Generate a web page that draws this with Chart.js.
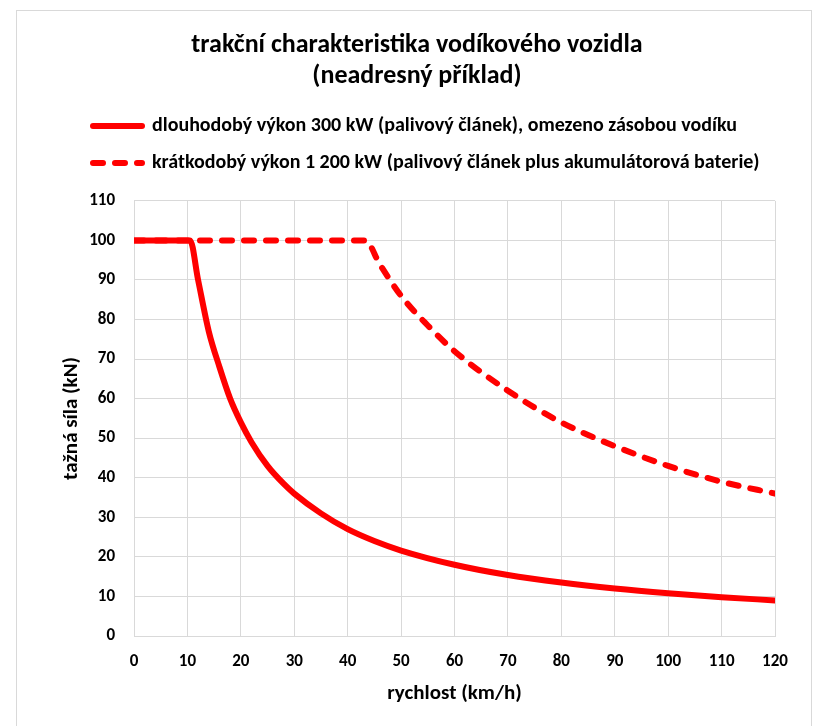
<!DOCTYPE html>
<html>
<head>
<meta charset="utf-8">
<script src="https://cdn.jsdelivr.net/npm/chart.js@4.4.0/dist/chart.umd.min.js"></script>
<style>
  body { margin: 0; background: #fff; }
  #box { position: absolute; left: 16px; top: 10px; width: 794px; height: 730px; border: 1px solid #d9d9d9; background: #fff; }
  canvas { display: block; }
</style>
</head>
<body>
<div id="box"><canvas id="c" width="794" height="718"></canvas></div>
<script>
// dlouhodobý výkon 300 kW
const speedLong = [0, 10.5, 12, 14, 16, 18, 20, 22, 25, 28, 30, 35, 40, 45, 50, 60, 70, 80, 90, 100, 110, 120];
const forceLong = [100, 100, 90, 77, 68, 60, 54, 49, 43, 38.5, 36, 31, 27, 24, 21.6, 18, 15.4, 13.5, 12, 10.8, 9.8, 9];
// krátkodobý výkon 1 200 kW
const speedShort = [0, 43.3, 46, 50, 55, 60, 70, 80, 90, 100, 110, 120];
const forceShort = [100, 100, 94, 86, 78.5, 72, 62, 54, 48, 43, 39, 36];

const seriesNames = [
  'dlouhodobý výkon 300 kW (palivový článek), omezeno zásobou vodíku',
  'krátkodobý výkon 1 200 kW (palivový článek plus akumulátorová baterie)'
];
const titleLines = ['trakční charakteristika vodíkového vozidla', '(neadresný příklad)'];

const FONT = 'Carlito, Lato, sans-serif';

function pts(xs, ys) {
  return xs.map((x, i) => ({ x: x, y: ys[i] }));
}

// legend drawn by hand so both rows start at the same x
const legendPlugin = {
  id: 'leftLegend',
  afterDraw(chart) {
    const ctx = chart.ctx;
    const rows = [115, 152];
    ctx.save();
    chart.data.datasets.forEach((ds, i) => {
      const y = rows[i];
      ctx.strokeStyle = ds.borderColor;
      ctx.lineWidth = ds.borderWidth;
      ctx.lineCap = 'round';
      ctx.setLineDash(ds.borderDash || []);
      ctx.beginPath();
      ctx.moveTo(76, y);
      ctx.lineTo(125, y);
      ctx.stroke();
      ctx.setLineDash([]);
      ctx.fillStyle = '#000';
      ctx.font = 'bold 20px ' + FONT;
      ctx.textBaseline = 'middle';
      ctx.fillText(ds.label, 135, y);
    });
    ctx.restore();
  }
};

new Chart(document.getElementById('c'), {
  type: 'line',
  data: {
    datasets: [
      {
        label: seriesNames[0],
        data: pts(speedLong, forceLong),
        borderColor: '#ff0000',
        borderWidth: 6,
        pointRadius: 0,
        cubicInterpolationMode: 'monotone',
        borderCapStyle: 'round',
        borderJoinStyle: 'round'
      },
      {
        label: seriesNames[1],
        data: pts(speedShort, forceShort),
        borderColor: '#ff0000',
        borderWidth: 6,
        borderDash: [10, 12],
        pointRadius: 0,
        cubicInterpolationMode: 'monotone',
        borderCapStyle: 'round',
        borderJoinStyle: 'round'
      }
    ]
  },
  options: {
    responsive: false,
    animation: false,
    layout: { padding: { top: 0, right: 36, bottom: 23, left: 42 } },
    plugins: {
      legend: { display: false },
      tooltip: { enabled: false },
      title: {
        display: true,
        text: titleLines,
        color: '#000',
        font: { family: FONT, size: 26, weight: 'bold', lineHeight: 1.19 },
        padding: { top: 19, bottom: 109 }
      }
    },
    scales: {
      x: {
        type: 'linear',
        min: 0,
        max: 120,
        ticks: { stepSize: 10, color: '#000', font: { family: FONT, size: 17, weight: 'bold' }, padding: 16 },
        grid: { color: '#d9d9d9', drawTicks: false },
        border: { color: '#d9d9d9' },
        title: { display: true, text: 'rychlost (km/h)', color: '#000', font: { family: FONT, size: 21, weight: 'bold' }, padding: 0 },
        afterFit(scale) { scale.height = 70; }
      },
      y: {
        min: 0,
        max: 110,
        ticks: { stepSize: 10, color: '#000', font: { family: FONT, size: 17, weight: 'bold' }, padding: 19 },
        grid: { color: '#d9d9d9', drawTicks: false },
        border: { color: '#d9d9d9' },
        title: { display: true, text: 'tažná síla (kN)', color: '#000', font: { family: FONT, size: 21, weight: 'bold' }, padding: 0 },
        afterFit(scale) { scale.width = 75; }
      }
    }
  },
  plugins: [legendPlugin]
});
</script>
</body>
</html>
